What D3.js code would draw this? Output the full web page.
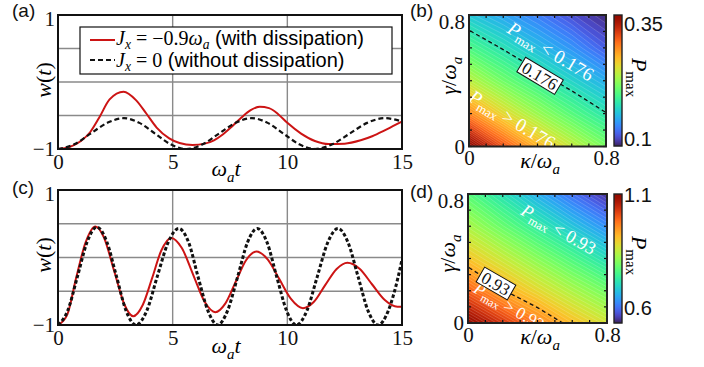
<!DOCTYPE html>
<html>
<head>
<meta charset="utf-8">
<script src="https://cdn.jsdelivr.net/npm/d3@7"></script>
<style>
  html, body { margin: 0; padding: 0; background: #fff; }
  svg { display: block; }
  text { white-space: pre; }
</style>
</head>
<body>
<svg id="chart" width="704" height="367"></svg>
<script>
// ---- values ----
const timeTicks = [0, 5, 10, 15];
const timeGrid = [5, 10];
const wTicks = [-1, 1];
const wGrid = [-0.5, 0, 0.5];

// (a) J_x = -0.9 w_a (with dissipation)
const tRedA = [0, 0.5, 1.0, 1.4, 1.8, 2.25, 2.86, 3.4, 3.85, 4.3, 4.85, 5.3, 5.87, 6.4, 6.8, 7.2, 7.6, 8.0, 8.4, 8.8, 9.2, 9.6, 10.0, 10.6, 11.2, 11.8, 12.5, 13.2, 13.7, 14.2, 14.6, 15.0];
const wRedA = [-1.00, -0.97, -0.88, -0.75, -0.53, -0.26, -0.145, -0.27, -0.47, -0.68, -0.84, -0.91, -0.94, -0.92, -0.87, -0.78, -0.66, -0.53, -0.42, -0.37, -0.39, -0.48, -0.61, -0.77, -0.88, -0.925, -0.92, -0.87, -0.81, -0.73, -0.66, -0.59];
// (a) J_x = 0 (without dissipation)
const tDashA = [0, 0.71, 1.42, 2.15, 2.87, 3.55, 4.23, 4.91, 5.60, 6.31, 7.02, 7.74, 8.45, 9.14, 9.83, 10.52, 11.20, 11.96, 12.72, 13.48, 14.25, 15.0];
const wDashA = [-1, -0.93, -0.77, -0.61, -0.54, -0.61, -0.77, -0.93, -1, -0.93, -0.77, -0.61, -0.54, -0.61, -0.77, -0.93, -1, -0.93, -0.77, -0.61, -0.54, -0.59];

// (c)
const tRedC = [0, 0.4, 0.8, 1.2, 1.63, 2.0, 2.45, 2.9, 3.28, 3.7, 4.1, 4.5, 4.94, 5.4, 5.9, 6.4, 6.86, 7.3, 7.75, 8.2, 8.65, 9.15, 9.65, 10.15, 10.68, 11.15, 11.65, 12.15, 12.62, 13.15, 13.7, 14.25, 14.8, 15.0];
const wRedC = [-1, -0.85, -0.29, 0.22, 0.46, 0.30, -0.20, -0.70, -0.87, -0.70, -0.31, 0.10, 0.29, 0.14, -0.26, -0.66, -0.81, -0.68, -0.36, -0.04, 0.09, -0.03, -0.32, -0.61, -0.75, -0.66, -0.41, -0.17, -0.077, -0.166, -0.40, -0.63, -0.73, -0.73];
const tDashC = [0, 0.42, 0.85, 1.27, 1.69, 2.12, 2.55, 2.97, 3.40, 3.87, 4.33, 4.80, 5.26, 5.70, 6.11, 6.54, 6.96, 7.39, 7.83, 8.26, 8.69, 9.12, 9.54, 9.97, 10.39, 10.85, 11.30, 11.76, 12.21, 12.65, 13.09, 13.52, 13.96, 14.40, 14.83, 15.0];
const wDashC = [-1, -0.79, -0.28, 0.23, 0.45, 0.24, -0.28, -0.79, -1, -0.79, -0.28, 0.22, 0.43, 0.22, -0.29, -0.79, -1, -0.79, -0.29, 0.22, 0.43, 0.22, -0.29, -0.79, -1, -0.79, -0.29, 0.22, 0.43, 0.22, -0.29, -0.79, -1, -0.79, -0.29, -0.03];

// heat maps: rows = gamma/w_a (0 -> 0.8), columns = kappa/w_a (0 -> 0.8)
const kappaGrid = [0, 0.2, 0.4, 0.6, 0.8];
const gammaGrid = [0, 0.2, 0.4, 0.6, 0.8];
const heatTicks = [0, 0.1, 0.2, 0.3, 0.4, 0.5, 0.6, 0.7, 0.8];
const heatTickLabels = [0, 0.8];
const pmaxB = [
    [0.372, 0.322, 0.280, 0.246, 0.216],
    [0.300, 0.260, 0.229, 0.201, 0.177],
    [0.242, 0.212, 0.187, 0.165, 0.145],
    [0.197, 0.174, 0.153, 0.134, 0.110],
    [0.158, 0.141, 0.124, 0.104, 0.088]
];
const pmaxD = [
    [1.100, 1.036, 0.972, 0.914, 0.868],
    [0.997, 0.933, 0.884, 0.836, 0.790],
    [0.906, 0.858, 0.808, 0.758, 0.708],
    [0.835, 0.782, 0.729, 0.678, 0.627],
    [0.768, 0.712, 0.655, 0.600, 0.548]
];
const levelB = 0.176;
const levelD = 0.93;
const cbarDomainB = [0.084, 0.37];
const cbarDomainD = [0.532, 1.105];
const cbarTicksB = [0.1, 0.35];
const cbarTicksD = [0.6, 1.1];

// ---- drawing ----
const svg = d3.select('#chart');
const serif = '"Liberation Serif", "DejaVu Serif", serif';
const sans = '"Liberation Sans", Arial, sans-serif';
const red = '#cc1414';
let clipCount = 0;

svg.append('rect').attr('width', 704).attr('height', 367).attr('fill', '#fff');

// text with italic parts and subscripts
function mathText(g, parts, size, drop = 0.28) {
    const text = g.append('text').attr('font-family', serif).attr('font-size', size);
    let shift = 0;
    parts.forEach(p => {
        const ts = text.append('tspan').text(p.s);
        if (p.i) ts.attr('font-style', 'italic');
        if (p.f) ts.attr('font-family', p.f);
        if (p.sub) ts.attr('font-size', size * 0.68);
        const want = p.sub ? size * drop : 0;
        if (want !== shift) { ts.attr('dy', want - shift); shift = want; }
    });
    return text;
}

function addClip(box) {
    const id = 'clip' + (clipCount++);
    svg.append('clipPath').attr('id', id).append('rect')
        .attr('x', box.left).attr('y', box.top)
        .attr('width', box.right - box.left).attr('height', box.bottom - box.top);
    return 'url(#' + id + ')';
}

function drawTimePanel(box, series, xLabelY, yLabelY) {
    const x = d3.scaleLinear().domain([0, 15]).range([box.left, box.right]);
    const y = d3.scaleLinear().domain([-1, 1]).range([box.bottom, box.top]);
    const g = svg.append('g');

    g.append('g').selectAll('line').data(timeGrid).enter().append('line')
        .attr('x1', d => x(d)).attr('x2', d => x(d))
        .attr('y1', box.top).attr('y2', box.bottom)
        .attr('stroke', '#8a8a8a').attr('stroke-width', 1.4);
    g.append('g').selectAll('line').data(wGrid).enter().append('line')
        .attr('x1', box.left).attr('x2', box.right)
        .attr('y1', d => y(d)).attr('y2', d => y(d))
        .attr('stroke', '#8a8a8a').attr('stroke-width', 1.4);

    const clip = addClip(box);
    series.forEach(s => {
        const line = d3.line()
            .x(i => x(s.t[i]))
            .y(i => y(s.w[i]))
            .curve(d3.curveMonotoneX);
        g.append('path')
            .attr('d', line(d3.range(s.t.length)))
            .attr('fill', 'none')
            .attr('stroke', s.color)
            .attr('stroke-width', s.width)
            .attr('stroke-dasharray', s.dash || null)
            .attr('stroke-linejoin', 'round')
            .attr('clip-path', clip);
    });

    g.append('rect')
        .attr('x', box.left).attr('y', box.top)
        .attr('width', box.right - box.left).attr('height', box.bottom - box.top)
        .attr('fill', 'none').attr('stroke', '#111').attr('stroke-width', 2);

    const xAxis = g.append('g').attr('transform', `translate(0,${box.bottom})`)
        .call(d3.axisBottom(x).tickValues(timeTicks).tickSize(0).tickPadding(5));
    const yAxis = g.append('g').attr('transform', `translate(${box.left},0)`)
        .call(d3.axisLeft(y).tickValues(wTicks).tickFormat(d3.format('d')).tickSize(0).tickPadding(3));
    [xAxis, yAxis].forEach(a => {
        a.select('.domain').remove();
        a.selectAll('text').attr('font-family', serif).attr('font-size', 21).attr('fill', '#111');
    });
    yAxis.selectAll('.tick').filter(d => d === 1).select('text').attr('y', 4);

    mathText(g, [{ s: 'ω', i: true }, { s: 'a', i: true, sub: true }, { s: 't', i: true }], 22)
        .attr('x', x(7.5) - 4).attr('y', xLabelY).attr('text-anchor', 'middle');
    mathText(g, [{ s: 'w', i: true }, { s: '(' }, { s: 't', i: true }, { s: ')' }], 22)
        .attr('text-anchor', 'middle')
        .attr('transform', `translate(51,${yLabelY}) rotate(-90)`);
    return { x, y, g };
}

function drawHeatmap(box, cbar, values, domain, level, cbarTicks, cfg) {
    const kx = d3.scaleLinear().domain([0, 0.8]).range([box.left, box.right]);
    const gy = d3.scaleLinear().domain([0, 0.8]).range([box.bottom, box.top]);
    const nx = kappaGrid.length;
    const ny = gammaGrid.length;
    const gridToKappa = d3.scaleLinear().domain([0.5, nx - 0.5]).range([kappaGrid[0], kappaGrid[nx - 1]]);
    const gridToGamma = d3.scaleLinear().domain([0.5, ny - 0.5]).range([gammaGrid[0], gammaGrid[ny - 1]]);
    const proj = d3.geoTransform({
        point: function (px, py) { this.stream.point(kx(gridToKappa(px)), gy(gridToGamma(py))); }
    });
    const path = d3.geoPath(proj);
    const flat = values.flat();
    const norm = d3.scaleLinear().domain(domain).range([0.02, 0.98]).clamp(true);
    const color = v => d3.interpolateTurbo(norm(v));
    const step = (domain[1] - domain[0]) / 60;
    const levels = d3.range(domain[0], domain[1], step);

    const g = svg.append('g');
    const clip = addClip(box);
    const bands = d3.contours().size([nx, ny]).thresholds(levels)(flat);
    g.append('g').attr('clip-path', clip).selectAll('path').data(bands).enter().append('path')
        .attr('d', path)
        .attr('fill', d => color(d.value + step / 2))
        .attr('stroke', 'rgba(255,255,255,0.35)')
        .attr('stroke-width', 0.5);

    const iso = d3.contours().size([nx, ny]).thresholds([level])(flat);
    g.append('path').datum(iso[0])
        .attr('d', path)
        .attr('clip-path', clip)
        .attr('fill', 'none')
        .attr('stroke', '#111')
        .attr('stroke-width', 1.3)
        .attr('stroke-dasharray', '4,3');

    // P_max < level / P_max > level
    const annoLayer = g.append('g').attr('clip-path', clip);
    const anno = (pos, sign, size) => {
        mathText(annoLayer, [
            { s: 'P', i: true }, { s: 'max', sub: true }, { s: ' ' + sign + ' ' + level }
        ], size, 0.22)
            .attr('fill', '#fff')
            .attr('text-anchor', 'middle')
            .attr('dy', '0.3em')
            .attr('transform', `translate(${kx(pos[0])},${gy(pos[1])}) rotate(${cfg.angle})`);
    };
    anno(cfg.less, '<', cfg.annoSize);
    anno(cfg.more, '>', cfg.moreSize);

    const lab = g.append('g')
        .attr('transform', `translate(${kx(cfg.label[0])},${gy(cfg.label[1])}) rotate(${cfg.angle})`);
    lab.append('rect')
        .attr('x', -cfg.boxW / 2).attr('y', -8.5).attr('width', cfg.boxW).attr('height', 17)
        .attr('fill', '#fff').attr('stroke', '#111').attr('stroke-width', 1);
    lab.append('text')
        .attr('text-anchor', 'middle').attr('dy', '0.36em')
        .attr('font-family', serif).attr('font-size', 17).attr('fill', '#111')
        .text(String(level));

    // inner ticks on all sides
    const tk = g.append('g').attr('stroke', '#111').attr('stroke-width', 1.2);
    heatTicks.forEach(v => {
        tk.append('line').attr('x1', kx(v)).attr('x2', kx(v)).attr('y1', box.bottom).attr('y2', box.bottom - 3);
        tk.append('line').attr('x1', kx(v)).attr('x2', kx(v)).attr('y1', box.top).attr('y2', box.top + 3);
        tk.append('line').attr('y1', gy(v)).attr('y2', gy(v)).attr('x1', box.left).attr('x2', box.left + 3);
        tk.append('line').attr('y1', gy(v)).attr('y2', gy(v)).attr('x1', box.right).attr('x2', box.right - 3);
    });

    g.append('rect')
        .attr('x', box.left).attr('y', box.top)
        .attr('width', box.right - box.left).attr('height', box.bottom - box.top)
        .attr('fill', 'none').attr('stroke', '#222').attr('stroke-width', 2);

    const fmt = d => d === 0 ? '0' : String(d);
    const xAxis = g.append('g').attr('transform', `translate(0,${box.bottom})`)
        .call(d3.axisBottom(kx).tickValues(heatTickLabels).tickFormat(fmt).tickSize(0).tickPadding(4));
    const yAxis = g.append('g').attr('transform', `translate(${box.left},0)`)
        .call(d3.axisLeft(gy).tickValues(heatTickLabels).tickFormat(fmt).tickSize(0).tickPadding(4));
    [xAxis, yAxis].forEach(a => {
        a.select('.domain').remove();
        a.selectAll('text').attr('font-family', serif).attr('font-size', 21).attr('fill', '#111');
    });
    yAxis.selectAll('.tick').filter(d => d === 0.8).select('text').attr('y', 7);

    mathText(g, [{ s: 'κ', i: true }, { s: '/' }, { s: 'ω', i: true }, { s: 'a', i: true, sub: true }], 22)
        .attr('x', 540).attr('y', box.bottom + 21).attr('text-anchor', 'middle');
    mathText(g, [{ s: 'γ', i: true }, { s: '/' }, { s: 'ω', i: true }, { s: 'a', i: true, sub: true }], 22)
        .attr('text-anchor', 'middle')
        .attr('transform', `translate(${box.left - 13},${(box.top + box.bottom) / 2 - 5}) rotate(-90)`);

    // colour bar
    const cy = d3.scaleLinear().domain(domain).range([cbar.bottom, cbar.top]);
    g.append('g').selectAll('rect').data(d3.range(cbar.top, cbar.bottom)).enter().append('rect')
        .attr('x', cbar.left).attr('y', d => d)
        .attr('width', cbar.right - cbar.left).attr('height', 1.2)
        .attr('fill', d => color(cy.invert(d + 0.5)));
    g.append('rect')
        .attr('x', cbar.left).attr('y', cbar.top)
        .attr('width', cbar.right - cbar.left).attr('height', cbar.bottom - cbar.top)
        .attr('fill', 'none').attr('stroke', '#222').attr('stroke-width', 1.4);
    const cAxis = g.append('g').attr('transform', `translate(${cbar.right},0)`)
        .call(d3.axisRight(cy).tickValues(cbarTicks).tickFormat(d => String(d)).tickSize(0).tickPadding(2));
    cAxis.select('.domain').remove();
    cAxis.selectAll('text').attr('font-family', sans).attr('font-size', 20).attr('fill', '#111');

    mathText(g, [{ s: 'P', i: true }, { s: 'max', sub: true }], 22)
        .attr('text-anchor', 'middle')
        .attr('transform', `translate(632,${(cbar.top + cbar.bottom) / 2 - 3}) rotate(90)`);
}

// (a)
drawTimePanel({ left: 58, right: 402, top: 15, bottom: 149 }, [
    { t: tRedA, w: wRedA, color: red, width: 2 },
    { t: tDashA, w: wDashA, color: '#111', width: 2.2, dash: '5,3' }
], 176, 80);

// legend of (a)
const leg = svg.append('g');
leg.append('rect').attr('x', 80).attr('y', 27).attr('width', 312).attr('height', 47)
    .attr('fill', '#fff').attr('stroke', '#111').attr('stroke-width', 1.2);
leg.append('line').attr('x1', 90).attr('x2', 115).attr('y1', 40).attr('y2', 40)
    .attr('stroke', red).attr('stroke-width', 2);
leg.append('line').attr('x1', 90).attr('x2', 115).attr('y1', 60).attr('y2', 60)
    .attr('stroke', '#111').attr('stroke-width', 2.2).attr('stroke-dasharray', '5,3');
mathText(leg, [
    { s: 'J', i: true }, { s: 'x', i: true, sub: true }, { s: ' = −0.9' },
    { s: 'ω', i: true }, { s: 'a', i: true, sub: true }, { s: ' (with dissipation)', f: sans }
], 20, 0.2).attr('x', 116).attr('y', 45);
mathText(leg, [
    { s: 'J', i: true }, { s: 'x', i: true, sub: true }, { s: ' = 0' },
    { s: ' (without dissipation)', f: sans }
], 20, 0.2).attr('x', 116).attr('y', 66.5);

// (c)
drawTimePanel({ left: 58, right: 402, top: 190, bottom: 325 }, [
    { t: tRedC, w: wRedC, color: red, width: 2 },
    { t: tDashC, w: wDashC, color: '#111', width: 3, dash: '3.5,2.2' }
], 353, 255);

// (b)
drawHeatmap({ left: 469, right: 606, top: 15, bottom: 146.5 }, { left: 614, right: 622, top: 15, bottom: 146 },
    pmaxB, cbarDomainB, levelB, cbarTicksB,
    { angle: 31, less: [0.475, 0.575], more: [0.25, 0.16], label: [0.415, 0.43], boxW: 44, annoSize: 19, moreSize: 19 });

// (d)
drawHeatmap({ left: 468, right: 607, top: 194, bottom: 323 }, { left: 614, right: 622, top: 194, bottom: 323 },
    pmaxD, cbarDomainD, levelD, cbarTicksD,
    { angle: 30, less: [0.52, 0.577], more: [0.235, 0.1], label: [0.161, 0.245], boxW: 36, annoSize: 18, moreSize: 17 });

// panel letters
[['(a)', 12, 17], ['(b)', 410, 17], ['(c)', 12, 194], ['(d)', 410, 198]].forEach(p => {
    svg.append('text').attr('x', p[1]).attr('y', p[2])
        .attr('font-family', sans).attr('font-size', 19).attr('fill', '#111')
        .text(p[0]);
});
</script>
</body>
</html>
